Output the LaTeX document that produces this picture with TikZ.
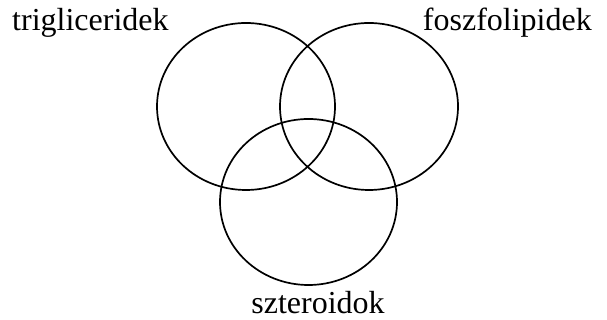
\documentclass[tikz,border=0pt]{standalone}
\usepackage{fontspec}
\setmainfont{Liberation Serif}
\usetikzlibrary{shapes.geometric}
\begin{document}
\begin{tikzpicture}[x=1pt,y=1pt,
  set/.style={draw=black,line width=1.7pt,ellipse,inner sep=0pt,outer sep=0pt},
  lbl/.style={inner sep=0pt,font=\fontsize{32}{38}\selectfont}]
\useasboundingbox (0,0) rectangle (607,320);
\node[set,minimum width=178pt,minimum height=167pt] (tri) at (246,213.5) {};
\node[set,minimum width=178pt,minimum height=167pt] (fos) at (369,213.5) {};
\node[set,minimum width=177pt,minimum height=166pt] (szt) at (308.5,118) {};
\node[lbl,anchor=base west] (ltri) at (12,289) {trigliceridek};
\node[lbl,anchor=base east] (lfos) at (592,289) {foszfolipidek};
\node[lbl,anchor=base] (lszt) at (318,6) {szteroidok};
\end{tikzpicture}
\end{document}
